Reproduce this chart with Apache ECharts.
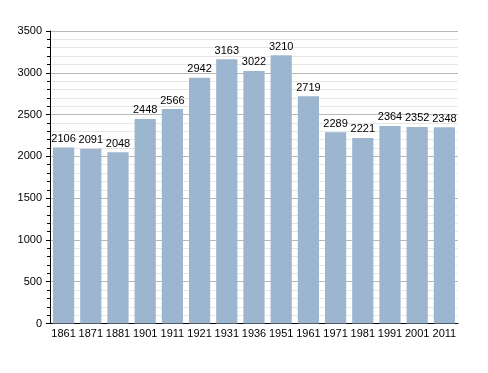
<!DOCTYPE html>
<html><head><meta charset="utf-8">
<script src="https://cdn.jsdelivr.net/npm/echarts@6/dist/echarts.min.js"></script>
<style>html,body{margin:0;padding:0;background:#fff}#c{width:488px;height:373px}</style>
</head><body><div id="c"></div>
<script>
const categories = ['1861','1871','1881','1901','1911','1921','1931','1936','1951','1961','1971','1981','1991','2001','2011'];
const population = [2106,2091,2048,2448,2566,2942,3163,3022,3210,2719,2289,2221,2364,2352,2348];
const yTicks = [0,500,1000,1500,2000,2500,3000,3500];

const chart = echarts.init(document.getElementById('c'));
chart.setOption({
  animation:false,
  grid:{left:50,right:30,top:31,bottom:49.5},
  xAxis:{type:'category',data:categories,
    axisLine:{lineStyle:{color:'#000',width:1}},
    axisTick:{show:false},
    axisLabel:{color:'#000',fontFamily:'Liberation Sans, Arial',fontSize:11,margin:5,interval:0}},
  yAxis:{type:'value',min:yTicks[0],max:yTicks[yTicks.length-1],interval:500,
    axisLine:{show:true,lineStyle:{color:'#000',width:1}},
    axisTick:{show:true,length:4,inside:false,lineStyle:{color:'#000'}},
    minorTick:{show:true,splitNumber:5,length:3,lineStyle:{color:'#000'}},
    splitLine:{lineStyle:{color:'#b8b8b8',width:1}},
    minorSplitLine:{show:true,lineStyle:{color:'#e6e6e6',width:1}},
    axisLabel:{color:'#000',fontFamily:'Liberation Sans, Arial',fontSize:11,margin:8,
      formatter:v=>String(v)}},
  series:[{type:'bar',data:population,barCategoryGap:'22%',
    itemStyle:{color:'#9db6d0'},
    label:{show:true,position:'top',color:'#000',fontFamily:'Liberation Sans, Arial',fontSize:11,distance:3}}]
});
</script></body></html>
